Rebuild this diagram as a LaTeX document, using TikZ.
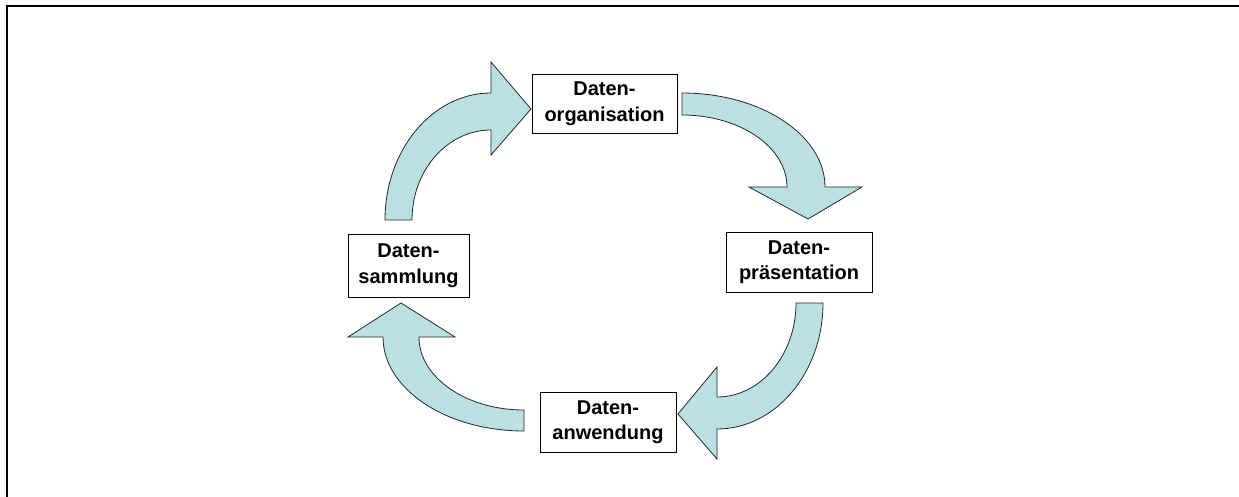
\documentclass[tikz,border=0pt]{standalone}
\usepackage{fontspec}
\setmainfont{Liberation Sans}
\definecolor{arrowfill}{RGB}{187,224,227}
\definecolor{arrowline}{RGB}{40,40,40}
\begin{document}
\begin{tikzpicture}[x=1pt,y=-1pt,
  stage/.style={draw=black,line width=0.9pt,fill=white,inner sep=0pt,align=center,
    font=\fontsize{20}{25.5}\selectfont\bfseries},
  blockarrow/.style={fill=arrowfill,draw=arrowline,line width=0.8pt,line join=miter}]
\useasboundingbox (0,0) rectangle (1239,497);
\begin{scope}
  \clip (0,0) rectangle (1239,497);
  \draw[line width=2pt] (6.5,6.5) rectangle (1300,560);
\end{scope}

% stages of the cycle
\node[stage,minimum width=145pt,minimum height=59pt] (org) at (604.5,103.5) {Daten-\\organisation};
\node[stage,minimum width=146pt,minimum height=60pt] (pres) at (799,262) {Daten-\\präsentation};
\node[stage,minimum width=136pt,minimum height=60pt] (anw) at (608,422) {Daten-\\anwendung};
\node[stage,minimum width=121pt,minimum height=63pt] (samm) at (408.5,265.5) {Daten-\\sammlung};

% curved block arrows between the stages
% Datensammlung -> Datenorganisation
\draw[blockarrow] (385,220) .. controls (385,149.9) and (432.5,93) .. (491,93)
  -- (491,62) -- (531,109) -- (491,155) -- (491,130)
  .. controls (447.4,130) and (412,170.3) .. (412,220) -- cycle;
% Datenorganisation -> Datenpraesentation
\draw[blockarrow] (682,93) .. controls (761,93) and (825,135.1) .. (825,187)
  -- (862,187) -- (808,219) -- (749,187) -- (787,187)
  .. controls (787,147.2) and (740,115) .. (682,115) -- cycle;
% Datenpraesentation -> Datenanwendung
\draw[blockarrow] (823,303) .. controls (823,372.6) and (775.5,429) .. (717,429)
  -- (717,459) -- (678,414) -- (717,367) -- (717,397)
  .. controls (760.6,397) and (796,354.9) .. (796,303) -- cycle;
% Datenanwendung -> Datensammlung
\draw[blockarrow] (524,431) .. controls (446.1,431) and (383,388.9) .. (383,337)
  -- (348,337) -- (401,303) -- (455,337) -- (419,337)
  .. controls (419,377.3) and (466,410) .. (524,410) -- cycle;
\end{tikzpicture}
\end{document}
